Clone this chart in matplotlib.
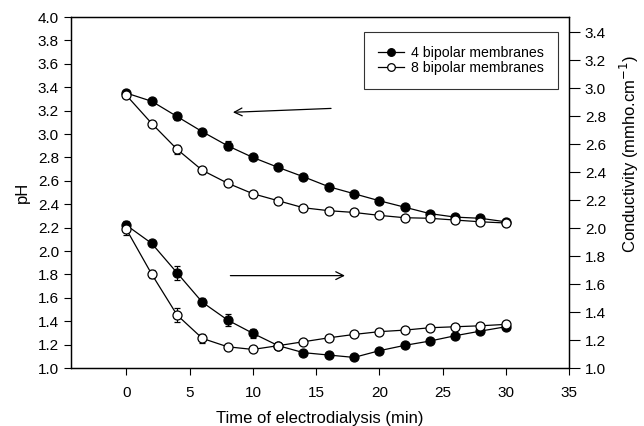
import matplotlib.pyplot as plt
from matplotlib.lines import Line2D
import numpy as np

plt.rcParams['font.family'] = ['Liberation Sans', 'DejaVu Sans']

time = [0, 2, 4, 6, 8, 10, 12, 14, 16, 18, 20, 22, 24, 26, 28, 30]

ph_4bp = [3.35, 3.28, 3.15, 3.02, 2.90, 2.80, 2.715, 2.635, 2.55, 2.49, 2.43, 2.375, 2.32, 2.29, 2.28, 2.25]
ph_4bp_err = [0.01, 0.01, 0.03, 0.01, 0.04, 0.01, 0.01, 0.01, 0.01, 0.01, 0.01, 0.01, 0.01, 0.01, 0.01, 0.01]
ph_8bp = [3.33, 3.09, 2.87, 2.69, 2.58, 2.49, 2.43, 2.37, 2.345, 2.33, 2.305, 2.285, 2.28, 2.265, 2.25, 2.24]
ph_8bp_err = [0.01, 0.02, 0.04, 0.03, 0.01, 0.01, 0.01, 0.01, 0.01, 0.01, 0.01, 0.01, 0.01, 0.01, 0.01, 0.01]

cond_4bp = [2.02, 1.89, 1.68, 1.47, 1.343, 1.248, 1.16, 1.11, 1.093, 1.076, 1.124, 1.162, 1.193, 1.231, 1.264, 1.295]
cond_4bp_err = [0.03, 0.02, 0.05, 0.03, 0.04, 0.03, 0.01, 0.01, 0.01, 0.01, 0.01, 0.01, 0.01, 0.01, 0.01, 0.01]
cond_8bp = [1.99, 1.67, 1.379, 1.212, 1.152, 1.133, 1.16, 1.188, 1.216, 1.24, 1.26, 1.271, 1.288, 1.295, 1.302, 1.312]
cond_8bp_err = [0.04, 0.03, 0.05, 0.03, 0.01, 0.01, 0.01, 0.01, 0.01, 0.01, 0.01, 0.01, 0.01, 0.01, 0.01, 0.01]

labels = ['4 bipolar membranes', '8 bipolar membranes']

fig = plt.figure(figsize=(6.44, 4.26), dpi=100)
ax = fig.add_axes([0.110, 0.136, 0.7735, 0.824])
ax2 = ax.twinx()

style = dict(color='black', lw=0.9, markersize=6.5, capsize=2.5, elinewidth=0.8,
             markeredgewidth=0.9)
ax.errorbar(time, ph_4bp, yerr=ph_4bp_err, fmt='-o', markerfacecolor='black',
            zorder=3, **style)
ax.errorbar(time, ph_8bp, yerr=ph_8bp_err, fmt='-o', markerfacecolor='white',
            zorder=4, **style)
ax2.errorbar(time, cond_4bp, yerr=cond_4bp_err, fmt='-o', markerfacecolor='black',
             zorder=3, **style)
ax2.errorbar(time, cond_8bp, yerr=cond_8bp_err, fmt='-o', markerfacecolor='white',
             zorder=4, **style)

ax.set_xlim(-4.4, 35)
ax.set_ylim(1.0, 4.0)
ax2.set_ylim(1.0, 3.507)
ax.set_xticks(np.arange(0, 36, 5))
ax.set_yticks(np.arange(1.0, 4.01, 0.2))
ax.set_yticklabels([f'{v:.1f}' for v in np.arange(1.0, 4.01, 0.2)])
ax2.set_yticks(np.arange(1.0, 3.41, 0.2))
ax2.set_yticklabels([f'{v:.1f}' for v in np.arange(1.0, 3.41, 0.2)])

for a in (ax, ax2):
    a.tick_params(labelsize=11, length=5, width=0.8, direction='out')
    for s in a.spines.values():
        s.set_linewidth(0.9)
ax.tick_params(axis='x', pad=8)
ax2.tick_params(length=8)

ax.set_xlabel('Time of electrodialysis (min)', fontsize=12, labelpad=8)
ax.set_ylabel('pH', fontsize=12, labelpad=6)
ax2.set_ylabel('Conductivity (mmho.cm$^{-1}$)', fontsize=12)
ax2.yaxis.set_label_coords(1.098, 0.61)

# direction arrows
ax.annotate('', xy=(8.2, 3.185), xytext=(16.4, 3.22),
            arrowprops=dict(arrowstyle='->', color='black', lw=0.9,
                            mutation_scale=14))
ax.annotate('', xy=(17.5, 1.79), xytext=(8.0, 1.79),
            arrowprops=dict(arrowstyle='->', color='black', lw=0.9,
                            mutation_scale=14))

handles = [Line2D([], [], color='black', lw=0.9, marker='o', markersize=5.5,
                  markerfacecolor=fc, markeredgecolor='black', markeredgewidth=0.9)
           for fc in ('black', 'white')]
leg = ax.legend(handles, labels, loc='upper right', bbox_to_anchor=(0.978, 0.957),
                fontsize=10.2, frameon=True, fancybox=False, edgecolor='black',
                handlelength=1.8, borderpad=1.0, labelspacing=0.05,
                handletextpad=0.5, borderaxespad=0)
leg.get_frame().set_linewidth(0.8)

fig.savefig('out.png', dpi=100)
